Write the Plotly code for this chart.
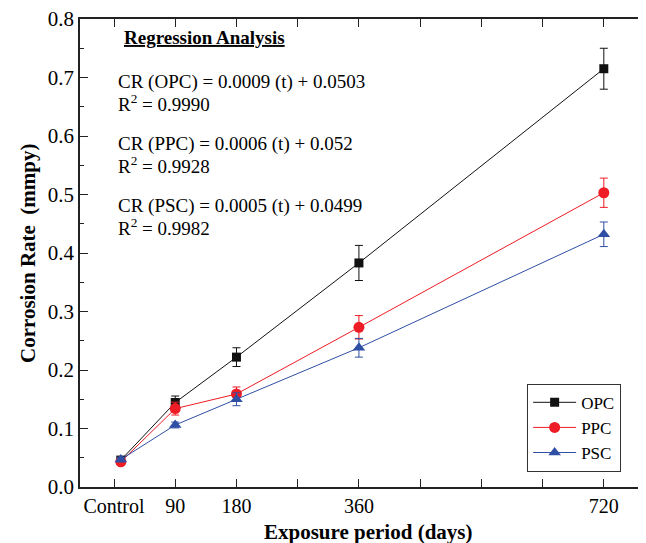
import plotly.graph_objects as go

days = [10, 90, 180, 360, 720]
tick_vals = [0, 90, 180, 360, 720]
tick_text = ["Control", "90", "180", "360", "720"]
minor_tick_vals = [270, 450, 540, 630]

opc = [0.046, 0.1445, 0.222, 0.383, 0.715]
opc_err = [0.005, 0.011, 0.016, 0.030, 0.035]
ppc = [0.043, 0.134, 0.159, 0.273, 0.503]
ppc_err = [0.004, 0.011, 0.012, 0.020, 0.025]
psc = [0.047, 0.106, 0.150, 0.238, 0.432]
psc_err = [0.004, 0.005, 0.011, 0.016, 0.021]

series = [
    ("OPC", opc, opc_err, "#111111", "square", 9),
    ("PPC", ppc, ppc_err, "#ee1c24", "circle", 11),
    ("PSC", psc, psc_err, "#2e4fa3", "triangle-up", 11),
]

FONT = "Liberation Serif"
fig = go.Figure()
for name, vals, errs, col, sym, sz in series:
    fig.add_trace(go.Scatter(
        x=days, y=vals, name=name, mode="lines+markers",
        line=dict(color=col, width=1),
        marker=dict(symbol=sym, size=sz, color=col),
        error_y=dict(type="data", array=errs, visible=True, color=col,
                     thickness=1, width=4),
    ))

eq_lines = [
    ("CR (OPC) = 0.0009 (t) + 0.0503", 0.692),
    ("R<sup>2</sup> = 0.9990", 0.657),
    ("CR (PPC) = 0.0006 (t) + 0.052", 0.586),
    ("R<sup>2</sup> = 0.9928", 0.551),
    ("CR (PSC) = 0.0005 (t) + 0.0499", 0.480),
    ("R<sup>2</sup> = 0.9982", 0.445),
]
annotations = [dict(x=11, y=0.769, xref="x", yref="y", text="<b><u>Regression Analysis</u></b>",
                    showarrow=False, xanchor="left", yanchor="middle",
                    font=dict(family=FONT, size=19, color="black"))]
for txt, yy in eq_lines:
    annotations.append(dict(x=3, y=yy, xref="x", yref="y", text=txt, showarrow=False,
                            xanchor="left", yanchor="middle",
                            font=dict(family=FONT, size=19, color="black")))
annotations.append(dict(x=0.509, y=-0.0955, xref="paper", yref="paper",
                        text="<b>Exposure period (days)</b>", showarrow=False,
                        xanchor="center", yanchor="middle",
                        font=dict(family=FONT, size=21, color="black")))
annotations.append(dict(x=-0.0919, y=0.5, xref="paper", yref="paper",
                        text="<b>Corrosion Rate  (mmpy)</b>", showarrow=False, textangle=-90,
                        xanchor="center", yanchor="middle",
                        font=dict(family=FONT, size=21, color="black")))

fig.update_layout(
    width=646, height=543,
    margin=dict(l=72, r=8, t=11, b=64),
    paper_bgcolor="white", plot_bgcolor="white",
    font=dict(family=FONT, size=19, color="black"),
    showlegend=True,
    legend=dict(x=0.79, y=0.2206, xanchor="left", yanchor="top",
                bordercolor="#333333", borderwidth=1, bgcolor="white",
                font=dict(family=FONT, size=17, color="black"),
                tracegroupgap=0, itemwidth=43),
    annotations=annotations,
    xaxis=dict(
        range=[-50, 782], tickmode="array", tickvals=tick_vals, ticktext=tick_text,
        ticks="inside", ticklen=8, tickwidth=1.2, tickcolor="#222222",
        showline=True, linecolor="#222222", linewidth=1.5, mirror="ticks",
        showgrid=False, zeroline=False, automargin=False,
        ticklabeloverflow="allow",
        minor=dict(tickmode="array", tickvals=minor_tick_vals, ticks="inside",
                   ticklen=8, tickwidth=1.2, tickcolor="#222222", showgrid=False),
        tickfont=dict(family=FONT, size=20, color="black"),
    ),
    yaxis=dict(
        range=[0, 0.8], dtick=0.1, tickformat=".1f",
        ticks="inside", ticklen=8, tickwidth=1.2, tickcolor="#222222",
        showline=True, linecolor="#222222", linewidth=1.5, mirror=False,
        showgrid=False, zeroline=False, automargin=False,
        ticklabeloverflow="allow",
        minor=dict(dtick=0.05, ticks="inside", ticklen=4, tickwidth=1.2,
                   tickcolor="#222222", showgrid=False),
        tickfont=dict(family=FONT, size=21, color="black"),
    ),
)

fig.write_html("out.html")
